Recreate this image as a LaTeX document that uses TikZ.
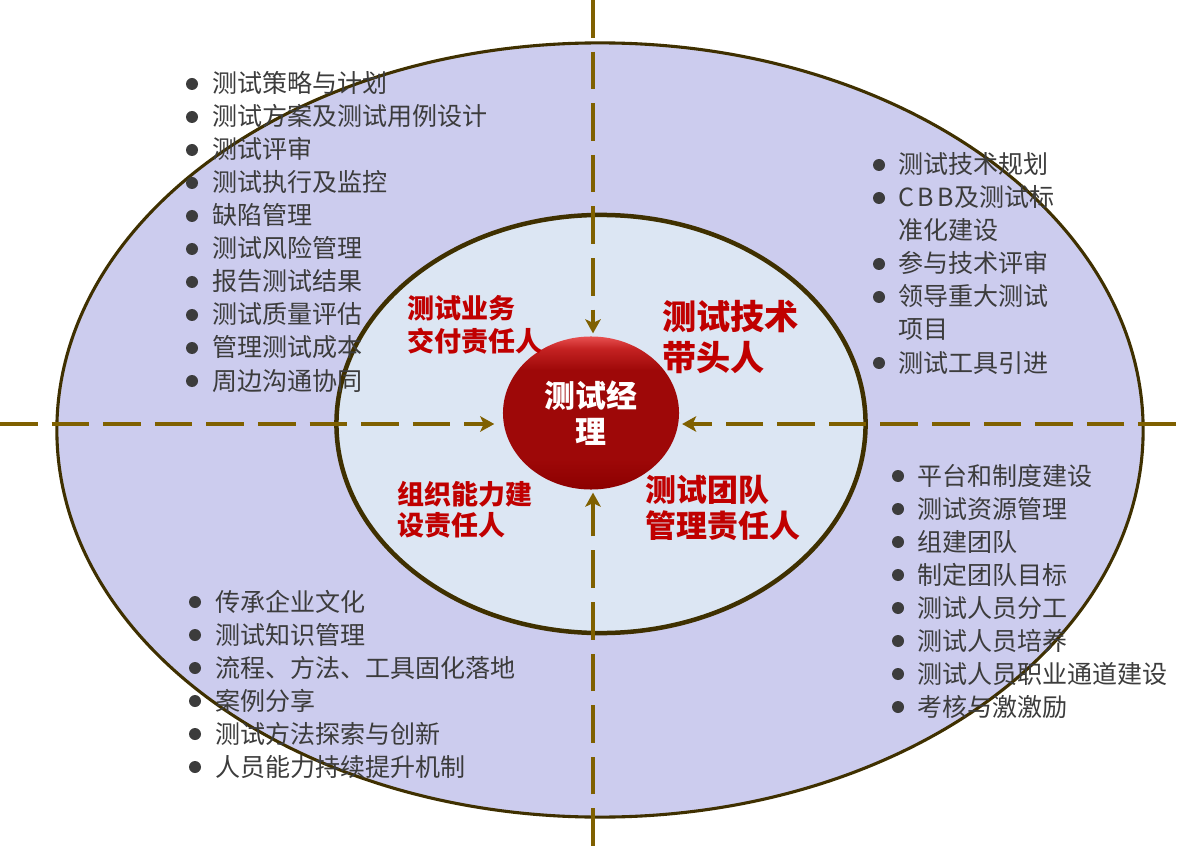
\documentclass[tikz,border=0pt]{standalone}
\usepackage{fontspec}
\setmainfont{Noto Sans CJK SC}
\usetikzlibrary{shapes.geometric,arrows.meta}
\definecolor{ringfill}{HTML}{CCCCEE}
\definecolor{corefill}{HTML}{DCE6F3}
\definecolor{guidecol}{HTML}{7F6000}
\definecolor{rimcol}{HTML}{3F3000}
\definecolor{rolered}{HTML}{C00000}
\definecolor{listgray}{HTML}{3C3C3C}
\definecolor{capdark}{HTML}{8C0000}
\definecolor{capmid}{HTML}{9E0808}
\definecolor{caprim}{HTML}{C42222}
\definecolor{caplight}{HTML}{E85050}
\pgfdeclareverticalshading{redcap}{100bp}{color(0bp)=(capdark); color(25bp)=(capdark); color(35bp)=(capmid); color(64bp)=(capmid); color(71bp)=(caprim); color(75bp)=(caplight); color(100bp)=(caplight)}

\begin{document}
\begin{tikzpicture}[x=0.025cm, y=-0.025cm, >={Stealth[length=10pt,width=11pt,inset=2.5pt]},
  ring/.style={ellipse, draw=rimcol, inner sep=0pt},
  guide/.style={draw=guidecol, line width=3.4pt, dash pattern=on 26.7pt off 10pt, ->, shorten >=2pt},
  item/.style={anchor=base west, inner sep=0pt, text=listgray, font=\fontsize{17.8pt}{23pt}\selectfont},
  role/.style={anchor=west, inner sep=0pt, align=left, text=rolered}]
  \useasboundingbox (0,0) rectangle (1190,846);

  % rings
  \node[ring, fill=ringfill, line width=2.2pt, minimum width=27.15cm, minimum height=19.35cm] (outer) at (600,430) {};
  \node[ring, fill=corefill, line width=3.2pt, minimum width=13.225cm, minimum height=10.45cm] (inner) at (601,424) {};
  \node[ellipse, inner sep=0pt, minimum width=4.4cm, minimum height=3.825cm, shading=redcap, text=white, align=center, font=\bfseries\fontsize{22pt}{25.6pt}\selectfont] (core) at (591,413) {测试经\\理};

  % axes
  \coordinate (nend) at (593,0);
  \coordinate (send) at (593,846);
  \coordinate (wend) at (0,424);
  \coordinate (eend) at (1176,424);
  \draw[guide, shorten >=6pt] (wend) -- (core.west |- wend);
  \draw[guide] (eend) -- (core.east |- eend);
  \draw[guide] (nend) -- (nend |- core.north);
  \draw[guide] (send) -- (send |- core.south);

  % roles
  \node[role, font=\bfseries\fontsize{19.2pt}{23pt}\selectfont] (deliver) at (407,325) {测试业务\\交付责任人};
  \node[role, font=\bfseries\fontsize{24.3pt}{28.5pt}\selectfont] (techlead) at (662,337) {测试技术\\带头人};
  \node[role, font=\bfseries\fontsize{19.2pt}{22pt}\selectfont] (orgbuild) at (397,509.5) {组织能力建\\设责任人};
  \node[role, font=\bfseries\fontsize{22pt}{25.6pt}\selectfont] (teamlead) at (645,508) {测试团队\\管理责任人};

  % task lists
  \foreach \t [count=\i from 0] in {测试策略与计划,测试方案及测试用例设计,测试评审,测试执行及监控,缺陷管理,测试风险管理,报告测试结果,测试质量评估,管理测试成本,周边沟通协同}{
    \node[item] (plan\i) at (212,{93+33*\i}) {\t};
    \fill[listgray] (192,{84+33*\i}) circle (6);
  }
  \foreach \t [count=\i from 0] in {平台和制度建设,测试资源管理,组建团队,制定团队目标,测试人员分工,测试人员培养,测试人员职业通道建设,考核与激激励}{
    \node[item] (team\i) at (917,{485+33*\i}) {\t};
    \fill[listgray] (898,{476+33*\i}) circle (6);
  }
  \foreach \t [count=\i from 0] in {传承企业文化,测试知识管理,流程、方法、工具固化落地,案例分享,测试方法探索与创新,人员能力持续提升机制}{
    \node[item] (org\i) at (215,{611+33*\i}) {\t};
    \fill[listgray] (195,{602+33*\i}) circle (6);
  }
  \node[item] (tech0) at (898,174) {测试技术规划};
  \node[item] (tech1) at (898,207) {C\hspace{2.5pt}B\hspace{2.5pt}B及测试标};
  \node[item] (tech1b) at (898,240) {准化建设};
  \node[item] (tech2) at (898,273) {参与技术评审};
  \node[item] (tech3) at (898,306) {领导重大测试};
  \node[item] (tech3b) at (898,339) {项目};
  \node[item] (tech4) at (898,372) {测试工具引进};
  \foreach \y in {165,198,264,297,363}
    \fill[listgray] (879,\y) circle (6);
\end{tikzpicture}
\end{document}
